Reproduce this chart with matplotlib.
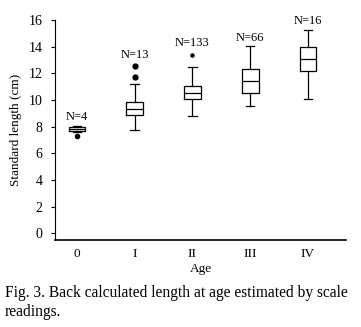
import matplotlib
matplotlib.use("Agg")
import matplotlib.pyplot as plt

plt.rcParams['font.family'] = ['Liberation Serif', 'DejaVu Serif']

# box statistics (cm)
ages = ['0', 'I', 'II', 'III', 'IV']
counts = [4, 13, 133, 66, 16]
med = [7.82, 9.33, 10.52, 11.42, 13.1]
q1 = [7.71, 8.88, 10.05, 10.52, 12.17]
q3 = [7.94, 9.83, 11.07, 12.35, 14.0]
whislo = [7.6, 7.75, 8.78, 9.57, 10.1]
whishi = [8.02, 11.18, 12.5, 14.05, 15.25]
fliers = [[7.33], [11.7, 12.57], [13.37], [], []]
flier_size = [3.0, 3.5, 2.2, 3.0, 3.0]
label_y = [8.75, 13.37, 14.25, 14.67, 15.9]

fig = plt.figure(figsize=(3.61, 3.27), dpi=100)
ax = fig.add_axes([55/361, 87/327, 291/361, 220/327])

pos = list(range(len(ages)))
for i in range(len(ages)):
    st = dict(med=med[i], q1=q1[i], q3=q3[i], whislo=whislo[i],
              whishi=whishi[i], fliers=fliers[i])
    ax.bxp([st], positions=[pos[i]], widths=0.29, showfliers=True,
           boxprops=dict(color='black', linewidth=0.9),
           medianprops=dict(color='black', linewidth=0.9),
           whiskerprops=dict(color='black', linewidth=0.9),
           capprops=dict(color='black', linewidth=0.9),
           flierprops=dict(marker='o', markerfacecolor='black',
                           markeredgecolor='black', markersize=flier_size[i]))
    ax.text(pos[i], label_y[i], 'N=%d' % counts[i], ha='center', va='center',
            fontsize=9)

ax.set_xlim(-0.38, 4.66)
ax.set_ylim(-0.5, 16)
ax.set_yticks(range(0, 17, 2))
ax.set_xticks(pos)
ax.set_xticklabels(ages)
ax.tick_params(axis='x', length=0, labelsize=9.5, pad=6)
ax.tick_params(axis='y', length=3, labelsize=10, width=0.8, pad=6)
ax.spines['top'].set_visible(False)
ax.spines['right'].set_visible(False)
ax.spines['left'].set_linewidth(0.8)
ax.spines['bottom'].set_linewidth(1.2)
ax.set_xlabel('Age', fontsize=9.5, labelpad=2)
ax.set_ylabel('Standard length (cm)', fontsize=9.5, labelpad=5)

fig.text(5/361, 1 - 293/327, 'Fig. 3. Back calculated length at age estimated by scale',
         fontsize=11.2, va='center', ha='left')
fig.text(5/361, 1 - 312/327, 'readings.', fontsize=11.2, va='center', ha='left')

fig.savefig('out.png', dpi=100)
